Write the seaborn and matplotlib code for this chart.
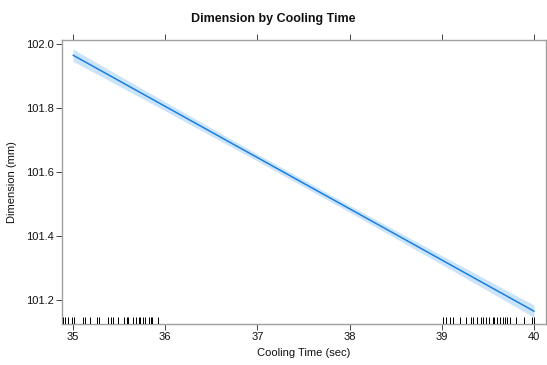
import matplotlib
matplotlib.use("Agg")
import matplotlib.pyplot as plt
import seaborn as sns
import numpy as np
import pandas as pd

sns.set_theme(style="white")
plt.rcParams['font.family'] = ['Liberation Sans', 'DejaVu Sans']

# fitted effect
cool_time = [35, 36, 37, 38, 39, 40]
fit = [101.965, 101.805, 101.645, 101.485, 101.325, 101.165]
half_width = [0.019, 0.014, 0.011, 0.011, 0.014, 0.019]

# observed cooling times (rug)
rug_x = [34.89, 34.91, 34.95, 34.99, 35.01, 35.11, 35.13, 35.18, 35.26, 35.28,
         35.38, 35.41, 35.43, 35.49, 35.55, 35.58, 35.60, 35.65, 35.68, 35.71,
         35.73, 35.76, 35.78, 35.82, 35.84, 35.86, 35.92,
         39.01, 39.04, 39.09, 39.12, 39.20, 39.26, 39.32, 39.34, 39.38, 39.42,
         39.45, 39.48, 39.51, 39.55, 39.57, 39.60, 39.63, 39.66, 39.69, 39.71,
         39.74, 39.81, 39.89, 39.98, 40.00]

xticks = [35, 36, 37, 38, 39, 40]
yticks = [101.2, 101.4, 101.6, 101.8, 102.0]

df = pd.DataFrame({"x": cool_time, "fit": fit})
lower = np.array(fit) - np.array(half_width)
upper = np.array(fit) + np.array(half_width)

fig = plt.figure(figsize=(5.47, 3.65), dpi=100)
ax = fig.add_axes([62/547, 1-324/365, 484/547, 284/365])

ax.fill_between(cool_time, lower, upper, color="#cce4fa", linewidth=0, zorder=1)
sns.lineplot(data=df, x="x", y="fit", ax=ax, color="#1a7fe0", linewidth=1.1, zorder=2)
sns.rugplot(x=rug_x, ax=ax, height=0.026, color="black", linewidth=0.7, zorder=3)

ax.set_xlim(34.88, 40.13)
ax.set_ylim(101.125, 102.0125)
ax.set_xticks(xticks)
ax.set_xticklabels([str(t) for t in xticks])
ax.set_yticks(yticks)
ax.set_yticklabels([f"{t:.1f}" for t in yticks])

for s in ax.spines.values():
    s.set_color("#a0a0a0")
    s.set_linewidth(1.0)
ax.tick_params(axis="both", which="both", direction="out", length=4, width=0.7,
               color="#444444", labelsize=8, labelcolor="#111111",
               top=True, right=True, bottom=True, left=True, pad=2)
ax.set_xlabel("Cooling Time (sec)", fontsize=8, color="#111111", labelpad=4)
ax.set_ylabel("Dimension (mm)", fontsize=8, color="#111111", labelpad=6)
fig.suptitle("Dimension by Cooling Time", fontsize=9, fontweight="bold", y=0.965,
             color="#111111")

fig.savefig("out.png", dpi=100)
